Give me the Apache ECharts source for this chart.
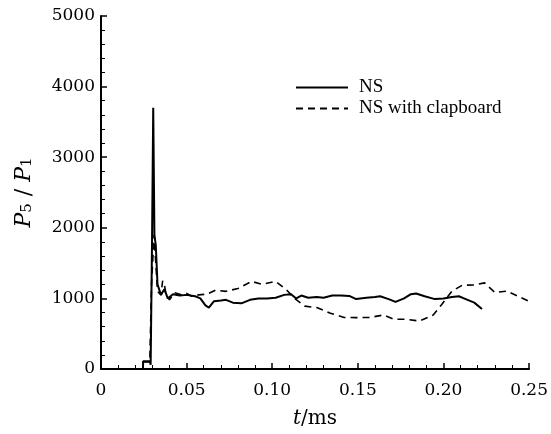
<!DOCTYPE html>
<html>
<head>
<meta charset="utf-8">
<script src="https://cdn.jsdelivr.net/npm/echarts@6/dist/echarts.min.js"></script>
<style>html,body{margin:0;padding:0;background:#fff;}#c{width:551px;height:434px;}</style>
</head>
<body>
<div id="c"></div>
<script>
// Data (t in ms, ratio P5/P1)
const nsT = [0,0.0245,0.0246,0.0285,0.029,0.0298,0.0305,0.0312,0.032,0.033,0.035,0.037,0.039,0.042,0.046,0.050,0.055,0.058,0.061,0.063,0.066,0.070,0.073,0.077,0.082,0.087,0.092,0.097,0.102,0.107,0.111,0.114,0.117,0.121,0.126,0.130,0.135,0.140,0.145,0.149,0.155,0.160,0.163,0.168,0.172,0.177,0.181,0.184,0.189,0.195,0.200,0.205,0.209,0.213,0.218,0.2225];
const nsV = [0,0,110,110,60,1800,3700,1900,1750,1200,1050,1130,1000,1060,1040,1050,1030,1000,900,870,960,970,980,940,930,980,1000,1000,1010,1050,1060,1000,1040,1010,1020,1010,1040,1040,1035,990,1010,1020,1030,990,950,1000,1060,1070,1030,990,1000,1020,1030,990,940,850];
const clapT = [0,0.0245,0.0246,0.0285,0.0295,0.031,0.032,0.033,0.035,0.036,0.037,0.038,0.040,0.043,0.047,0.050,0.053,0.057,0.062,0.067,0.073,0.080,0.088,0.094,0.102,0.108,0.113,0.119,0.126,0.134,0.142,0.149,0.157,0.165,0.171,0.178,0.186,0.194,0.199,0.205,0.211,0.218,0.224,0.230,0.237,0.245,0.25];
const clapV = [0,0,100,100,1200,1900,1500,1100,1050,1250,1200,1050,980,1080,1050,1070,1030,1050,1060,1117,1100,1140,1240,1200,1240,1130,1000,890,870,790,730,728,730,765,705,705,680,765,915,1103,1187,1190,1220,1085,1103,1014,958];
const xTicks = [0,0.05,0.10,0.15,0.20,0.25];
const yTicks = [0,1000,2000,3000,4000,5000];

const pair = (t, v) => t.map((x, i) => [x, v[i]]);
const chart = echarts.init(document.getElementById('c'), null, {renderer: 'canvas'});
const tickFont = {color: '#000', fontFamily: 'DejaVu Serif', fontSize: 17};
chart.setOption({
  animation: false,
  backgroundColor: '#fff',
  grid: {left: 101, right: 16, top: 16, bottom: 63, containLabel: false},
  legend: {
    left: 290, top: 73, orient: 'vertical', itemWidth: 52, itemHeight: 14, itemGap: 2,
    itemStyle: {opacity: 0},
    textStyle: {color: '#000', fontFamily: 'Liberation Serif', fontSize: 19, lineHeight: 16, padding: [0, 0, 0, 6]},
    data: ['NS', 'NS with clapboard']
  },
  xAxis: {
    type: 'value', min: 0, max: 0.25, interval: 0.05,
    axisLine: {show: true, onZero: false, lineStyle: {color: '#000', width: 2}},
    axisTick: {show: true, inside: true, length: 6, lineStyle: {color: '#000', width: 1.5}},
    minorTick: {show: true, splitNumber: 5, length: 4, lineStyle: {color: '#000', width: 1}},
    splitLine: {show: false},
    axisLabel: Object.assign({margin: 13, formatter: v => {
      const m = xTicks.find(t => Math.abs(t - v) < 1e-9);
      return m === 0 ? '0' : (m !== undefined ? m.toFixed(2) : '');
    }}, tickFont),
    name: '{i|t}{n|/ms}', nameLocation: 'middle', nameGap: 40,
    nameTextStyle: {rich: {
      i: {fontFamily: 'DejaVu Serif', fontStyle: 'italic', fontSize: 20, color: '#000'},
      n: {fontFamily: 'DejaVu Serif', fontSize: 20, color: '#000'}
    }}
  },
  yAxis: {
    type: 'value', min: 0, max: 5000, interval: 1000,
    axisLine: {show: true, onZero: false, lineStyle: {color: '#000', width: 2}},
    axisTick: {show: true, inside: true, length: 6, lineStyle: {color: '#000', width: 1.5}},
    minorTick: {show: true, splitNumber: 5, length: 4, lineStyle: {color: '#000', width: 1}},
    splitLine: {show: false},
    axisLabel: Object.assign({margin: 6, formatter: v => String(yTicks.find(t => t === v) ?? v)}, tickFont),
    name: '{i|P}{s|5}{n| / }{i|P}{s|1}', nameLocation: 'middle', nameGap: 66, nameRotate: 90,
    nameTextStyle: {rich: {
      i: {fontFamily: 'DejaVu Serif', fontStyle: 'italic', fontSize: 22, color: '#000', lineHeight: 28, verticalAlign: 'bottom'},
      n: {fontFamily: 'DejaVu Serif', fontSize: 22, color: '#000', lineHeight: 28, verticalAlign: 'bottom'},
      s: {fontFamily: 'DejaVu Serif', fontSize: 15, color: '#000', lineHeight: 14, verticalAlign: 'bottom'}
    }}
  },
  series: [
    {name: 'NS', type: 'line', data: pair(nsT, nsV), symbol: 'none', smooth: false,
     lineStyle: {color: '#000', width: 2}, itemStyle: {color: '#000'}, z: 3},
    {name: 'NS with clapboard', type: 'line', data: pair(clapT, clapV), symbol: 'none', smooth: false,
     lineStyle: {color: '#000', width: 1.6, type: [7, 5]}, itemStyle: {color: '#000'}, z: 2}
  ]
});
</script>
</body>
</html>
